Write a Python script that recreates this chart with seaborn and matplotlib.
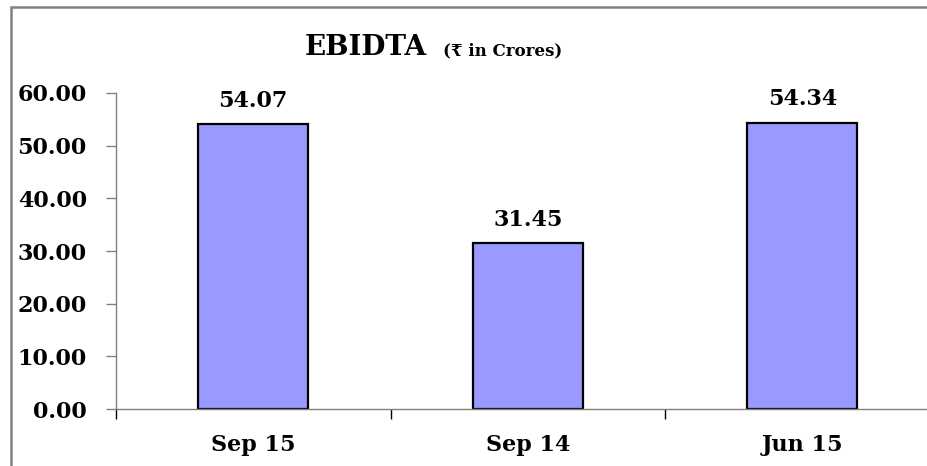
import matplotlib
matplotlib.use("Agg")
import matplotlib.pyplot as plt
import matplotlib.patches as mpatches
import seaborn as sns

# Data
periods = ["Sep 15", "Sep 14", "Jun 15"]
ebidta = [54.07, 31.45, 54.34]
y_ticks = [0, 10, 20, 30, 40, 50, 60]

sns.set_style("white")
plt.rcParams['font.family'] = ['DejaVu Serif', 'DejaVu Sans']
plt.rcParams['font.weight'] = 'bold'
plt.rcParams['text.color'] = 'black'
plt.rcParams['xtick.color'] = 'black'
plt.rcParams['ytick.color'] = 'black'

fig = plt.figure(figsize=(9.28, 4.66), dpi=100)
ax = fig.add_axes([116 / 928, 57 / 466, 823.5 / 928, 316 / 466])

sns.barplot(x=periods, y=ebidta, color="#9999FF", saturation=1,
            edgecolor="black", linewidth=1.6, width=0.4, ax=ax)

ax.set_ylim(0, 60)
ax.set_xlim(-0.5, 2.5)
ax.set_yticks(y_ticks)
ax.set_yticklabels([f"{v:.2f}" for v in y_ticks])
ax.set_xticks([-0.5, 0.5, 1.5, 2.5])
ax.set_xticklabels([])
ax.set_xticks(range(len(periods)), minor=True)
ax.set_xticklabels(periods, minor=True)
ax.set_xlabel("")
ax.set_ylabel("")

for side in ["top", "right"]:
    ax.spines[side].set_visible(False)
for side in ["left", "bottom"]:
    ax.spines[side].set_color("#808080")
    ax.spines[side].set_linewidth(1.0)

ax.tick_params(axis="y", which="major", direction="out", length=7, width=1,
               color="#808080", labelcolor="black", labelsize=16, pad=14,
               left=True)
ax.tick_params(axis="x", which="major", direction="out", length=7, width=1,
               color="black", bottom=True)
ax.tick_params(axis="x", which="minor", length=0, labelsize=16, pad=18,
               labelcolor="black")
for lbl in ax.get_yticklabels() + ax.get_xticklabels(minor=True):
    lbl.set_fontweight("bold")

ax.bar_label(ax.containers[0], labels=[f"{v:.2f}" for v in ebidta],
             padding=9, fontsize=16, fontweight="bold", color="black")

# Title
fig.text(305 / 928, 1 - 55 / 466, "EBIDTA", fontsize=20, fontweight="bold",
         ha="left", va="baseline", color="black")
fig.text(443 / 928, 1 - 55 / 466, "(\u20b9 in Crores)", fontsize=12,
         fontweight="bold", ha="left", va="baseline", color="black")

# Outer chart frame
frame = mpatches.Rectangle((11 / 928, -0.1), 1.2, 1.1 - 7 / 466,
                           transform=fig.transFigure, fill=False,
                           edgecolor="#808080", linewidth=1.8, clip_on=False)
fig.patches.append(frame)

fig.savefig("out.png", dpi=100)
